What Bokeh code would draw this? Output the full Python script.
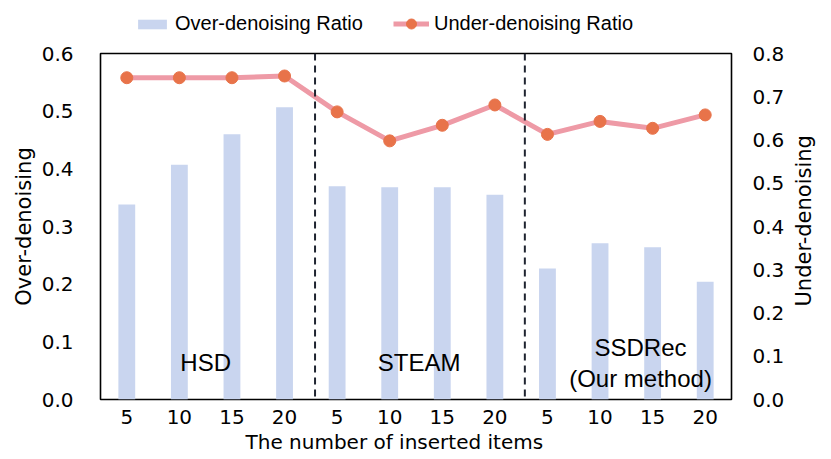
import math
from bokeh.plotting import figure
from bokeh.layouts import column, row
from bokeh.models import (Range1d, LinearAxis, FixedTicker, NumeralTickFormatter,
                          Legend, LegendItem, Span, ColumnDataSource, Title)
from bokeh.core.properties import value
from bokeh.embed import file_html
from bokeh.resources import INLINE

# ---- data ----
methods = ["HSD", "STEAM", "SSDRec"]
inserted_items = [5, 10, 15, 20]
over_denoising = [0.338, 0.407, 0.460, 0.507,
                  0.370, 0.368, 0.368, 0.355,
                  0.227, 0.271, 0.264, 0.204]
under_denoising = [0.744, 0.744, 0.744, 0.748,
                   0.665, 0.598, 0.634, 0.681,
                   0.613, 0.643, 0.627, 0.658]
left_ticks = [0.0, 0.1, 0.2, 0.3, 0.4, 0.5, 0.6]
right_ticks = [0.0, 0.1, 0.2, 0.3, 0.4, 0.5, 0.6, 0.7, 0.8]
right_title = "Under-denoising"

x_labels = [str(n) for m in methods for n in inserted_items]
xs = [i + 0.5 for i in range(len(x_labels))]

FONT = "Liberation Sans"
AXFONT = "DejaVu Sans"
BAR_COLOR = "#C9D5EF"
LINE_COLOR = "#EE9AA6"
MARK_COLOR = "#E8734A"

MAIN_W = 790
RS_W = 831 - MAIN_W

# ---------- main chart ----------
p = figure(width=MAIN_W, height=419, output_backend="svg", toolbar_location=None,
           x_range=Range1d(0, len(x_labels)), y_range=Range1d(0, 0.6),
           min_border_left=100, min_border_right=59, min_border_top=13,
           min_border_bottom=60)
p.extra_y_ranges = {"right": Range1d(0, 0.8)}
p.xgrid.visible = False
p.ygrid.visible = False
p.outline_line_color = "black"
p.outline_line_width = 1.6
p.background_fill_color = "white"
p.border_fill_color = "white"

src = ColumnDataSource(dict(x=xs, over=over_denoising, under=under_denoising))

bars = p.vbar(x="x", top="over", width=0.32, source=src, fill_color=BAR_COLOR,
              line_color=None)
ln = p.line(x="x", y="under", source=src, line_color=LINE_COLOR, line_width=5,
            y_range_name="right")
mk = p.scatter(x="x", y="under", source=src, size=12, fill_color=MARK_COLOR,
               line_color=MARK_COLOR, y_range_name="right")

for xd in [4.08, 8.07]:
    p.add_layout(Span(location=xd, dimension="height", line_color="#1F2430",
                      line_width=2, line_dash="7 5"))

# group labels
p.text(x=[2.0, 6.06], y=[0.0635, 0.0635], text=methods[:2],
       text_font=value(FONT), text_font_size="24px", text_align="center",
       text_baseline="middle", text_color="black")
p.text(x=[10.27, 10.27], y=[0.0903, 0.0357], text=[methods[2], "(Our method)"],
       text_font=value(FONT), text_font_size="24px", text_align="center",
       text_baseline="middle", text_color="black")

def style_axis(ax, title_size="20px"):
    ax.major_tick_line_color = None
    ax.minor_tick_line_color = None
    ax.axis_line_color = None
    ax.major_label_text_font = AXFONT
    ax.major_label_text_font_size = "20px"
    ax.major_label_text_color = "black"
    ax.axis_label_text_font = AXFONT
    ax.axis_label_text_font_size = title_size
    ax.axis_label_text_font_style = "normal"
    ax.axis_label_text_color = "black"
    ax.major_tick_out = 0
    ax.major_tick_in = 0

xa = p.xaxis[0]
xa.ticker = FixedTicker(ticks=xs)
xa.major_label_overrides = {x: l for x, l in zip(xs, x_labels)}
style_axis(xa, "20px")
xa.major_label_standoff = 10

xtitle = Title(text="The number of inserted items", align="left", offset=145,
               standoff=3, text_font=AXFONT, text_font_size="20px",
               text_font_style="normal", text_color="black")
p.add_layout(xtitle, "below")

ya = p.yaxis[0]
ya.ticker = FixedTicker(ticks=left_ticks)
ya.formatter = NumeralTickFormatter(format="0.0")
ya.axis_label = "Over-denoising"
style_axis(ya, "21px")
ya.major_label_standoff = 27
ya.axis_label_standoff = 3

ra = LinearAxis(y_range_name="right", ticker=FixedTicker(ticks=right_ticks),
                formatter=NumeralTickFormatter(format="0.0"))
style_axis(ra, "21px")
ra.major_label_standoff = 21
p.add_layout(ra, "right")

# ---------- legend strip ----------
lg = figure(width=MAIN_W, height=40, output_backend="svg", toolbar_location=None,
            x_axis_location=None, y_axis_location=None,
            min_border=0, outline_line_color=None,
            x_range=Range1d(0, 1), y_range=Range1d(0, 1))
lg.xgrid.visible = False
lg.ygrid.visible = False
# proxy glyphs (outside the visible range) that only feed the legend
lsrc = ColumnDataSource(dict(x=[-5.0], y=[-5.0], top=[-5.0]))
lb = lg.vbar(x="x", top="top", width=0.1, source=lsrc, fill_color=BAR_COLOR,
             line_color=None)
ll = lg.line(x="x", y="y", source=lsrc, line_color=LINE_COLOR, line_width=5)
lm = lg.scatter(x="x", y="y", source=lsrc, size=12, fill_color=MARK_COLOR,
                line_color=MARK_COLOR)

common = dict(orientation="horizontal", glyph_width=36, label_standoff=5,
              padding=0, margin=0, border_line_color=None,
              background_fill_alpha=0, label_text_font=FONT,
              label_text_font_size="20px", label_text_color="black")
leg1 = Legend(items=[LegendItem(label="Over-denoising Ratio", renderers=[lb])],
              location=(34, 5), glyph_height=12, **common)
leg2 = Legend(items=[LegendItem(label="Under-denoising Ratio", renderers=[ll, lm])],
              location=(293, 4), glyph_height=25, **common)
lg.add_layout(leg1, "center")
lg.add_layout(leg2, "center")

# ---------- right title strip ----------
rs = figure(width=RS_W, height=459, output_backend="svg", toolbar_location=None,
            x_axis_location=None, y_axis_location=None,
            min_border=0, outline_line_color=None,
            x_range=Range1d(0, 1), y_range=Range1d(0, 1))
rs.xgrid.visible = False
rs.ygrid.visible = False
rs.text(x=[0.32], y=[0.52], text=[right_title], angle=math.pi / 2,
        text_font=value(AXFONT), text_font_size="21px", text_align="center",
        text_baseline="middle", text_color="black")

layout = row(column(lg, p, spacing=0), rs, spacing=0)
open("out.html", "w").write(file_html(layout, INLINE))
